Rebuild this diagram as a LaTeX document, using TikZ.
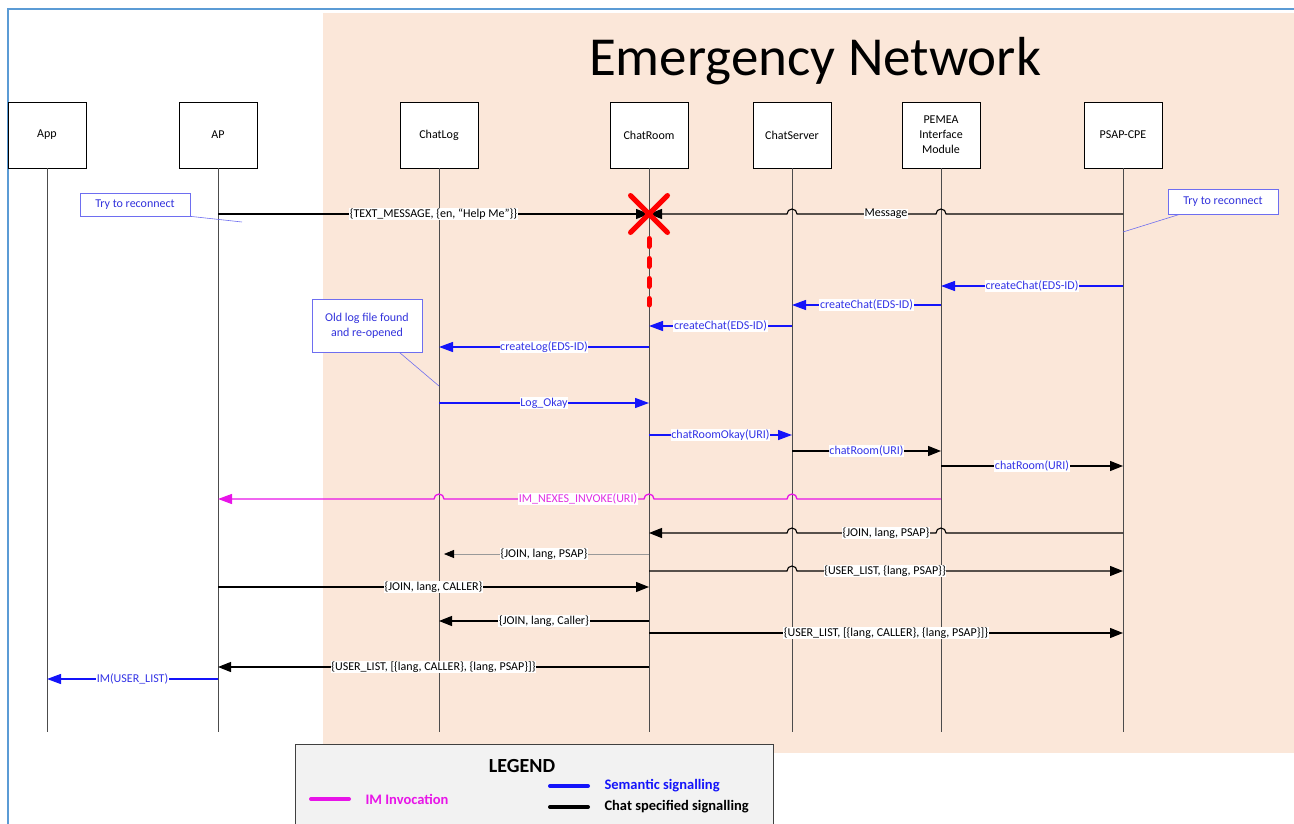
\documentclass[tikz,border=0pt]{standalone}
\usepackage{fontspec}
\setmainfont{Carlito}
\usetikzlibrary{arrows.meta,shapes.misc}
\definecolor{peach}{RGB}{251,231,217}
\definecolor{frameblue}{RGB}{91,155,213}
\definecolor{semblue}{RGB}{20,20,250}
\definecolor{semtext}{RGB}{51,51,230}
\definecolor{immag}{RGB}{232,20,232}
\definecolor{imtext}{RGB}{225,45,225}
\definecolor{noteblue}{RGB}{110,110,240}
\definecolor{notetext}{RGB}{50,50,220}
\begin{document}
\begin{tikzpicture}[x=1pt, y=-1pt,
    every node/.style={font=\fontsize{12}{15}\selectfont},
    actor/.style={draw, fill=white, line width=0.8pt, minimum width=78pt, minimum height=66pt, align=center, inner sep=1pt},
    life/.style={draw=black!70, line width=1pt},
    chat/.style={black, line width=1.1pt, -{Triangle[length=13pt,width=10pt]}},
    sem/.style={semblue, line width=1.3pt, -{Triangle[length=14pt,width=10pt]}},
    imcall/.style={immag, line width=1.3pt, -{Triangle[length=14pt,width=10pt]}},
    lbl/.style={fill=white, inner sep=0.6pt, text=black},
    semlbl/.style={lbl, text=semtext},
    note/.style={draw=noteblue, fill=white, line width=0.7pt, text=notetext, minimum width=110pt, align=center},
    noteline/.style={draw=noteblue, line width=0.6pt},
    legtext/.style={anchor=west, font=\bfseries\fontsize{14.5}{17}\selectfont}]

\useasboundingbox (0,0) rectangle (1294,824);
\fill[peach] (323,13) rectangle (1294,753);
\draw[frameblue, line width=2pt] (8,9) rectangle (1330,860);

\node[anchor=base, font=\fontsize{55}{60}\selectfont] (title) at (815,76) {Emergency Network};

\node[actor] (app) at (47,135) {App};
\node[actor] (ap) at (218,135) {AP};
\node[actor] (chatlog) at (439,135) {ChatLog};
\node[actor] (chatroom) at (649,135) {ChatRoom};
\node[actor] (chatsrv) at (792,135) {ChatServer};
\node[actor] (pemea) at (941,135) {PEMEA\\Interface\\Module};
\node[actor] (psap) at (1123,135) {PSAP-CPE};

\draw[life] (app.south) -- (app.south |- 0,732);
\draw[life] (ap.south) -- (ap.south |- 0,732);
\draw[life] (chatlog.south) -- (chatlog.south |- 0,732);
\draw[life] (chatroom.south) -- (chatroom.south |- 0,732);
\draw[life] (chatsrv.south) -- (chatsrv.south |- 0,732);
\draw[life] (pemea.south) -- (pemea.south |- 0,732);
\draw[life] (psap.south) -- (psap.south |- 0,732);

\draw[chat] (ap |- 0,214) -- node[lbl]{\{TEXT\_MESSAGE, \{en, “Help Me”\}\}} (chatroom |- 0,214);
\draw[chat] (psap |- 0,214) -- (946,214) arc[start angle=0, end angle=-180, radius=5]
    -- node[lbl, pos=.36]{Message} (797,214) arc[start angle=0, end angle=-180, radius=5]
    -- (chatroom |- 0,214);

\node[cross out, draw=red, line width=5pt, line cap=round, minimum size=32pt, inner sep=0pt] (fail) at (chatroom |- 0,214) {};
\draw[red, line width=5pt, line cap=round, dash pattern=on 8pt off 12pt] ([yshift=-6pt]fail.south) -- (chatroom |- 0,305);

\node[note, minimum height=23pt] (retryap) at (135,204.5) {Try to reconnect};
\coordinate (retryapend) at (242,222);
\draw[noteline] (retryap.south east) -- (retryapend);
\node[note, minimum height=25pt] (retrypsap) at (1223,201.5) {Try to reconnect};
\draw[noteline] ([xshift=12pt]retrypsap.south west) -- (psap |- 0,232);

\draw[sem] (psap |- 0,286) -- node[semlbl]{createChat(EDS-ID)} (pemea |- 0,286);
\draw[sem] (pemea |- 0,305) -- node[semlbl]{createChat(EDS-ID)} (chatsrv |- 0,305);
\draw[sem] (chatsrv |- 0,326) -- node[semlbl]{createChat(EDS-ID)} (chatroom |- 0,326);
\draw[sem] (chatroom |- 0,347) -- node[semlbl]{createLog(EDS-ID)} (chatlog |- 0,347);

\node[note, minimum height=53pt] (oldlog) at (367,325.5) {Old log file found\\and re-opened};
\draw[noteline] ([xshift=-23pt]oldlog.south east) -- (chatlog |- 0,386);

\draw[sem] (chatlog |- 0,403) -- node[semlbl]{Log\_Okay} (chatroom |- 0,403);
\draw[sem] (chatroom |- 0,435) -- node[semlbl]{chatRoomOkay(URI)} (chatsrv |- 0,435);
\draw[chat] (chatsrv |- 0,451) -- node[semlbl]{chatRoom(URI)} (pemea |- 0,451);
\draw[chat] (pemea |- 0,466) -- node[semlbl]{chatRoom(URI)} (psap |- 0,466);

\draw[imcall] (pemea |- 0,499) -- (797,499) arc[start angle=0, end angle=-180, radius=5]
    -- (654,499) arc[start angle=0, end angle=-180, radius=5]
    -- node[lbl, text=imtext, pos=.33]{IM\_NEXES\_INVOKE(URI)} (444,499) arc[start angle=0, end angle=-180, radius=5]
    -- (ap |- 0,499);

\draw[chat] (psap |- 0,533) -- (946,533) arc[start angle=0, end angle=-180, radius=5]
    -- node[lbl, pos=.36]{\{JOIN, lang, PSAP\}} (797,533) arc[start angle=0, end angle=-180, radius=5]
    -- (chatroom |- 0,533);
\draw[black!40, line width=0.8pt, -{Triangle[length=10pt,width=8pt,color=black]}, shorten >=5pt]
    (chatroom |- 0,554) -- node[lbl]{\{JOIN, lang, PSAP\}} (chatlog |- 0,554);
\draw[chat] (chatroom |- 0,571) -- (787,571) arc[start angle=180, end angle=360, radius=5]
    -- node[lbl, pos=.27]{\{USER\_LIST, \{lang, PSAP\}\}} (psap |- 0,571);
\draw[chat] (ap |- 0,587) -- node[lbl]{\{JOIN, lang, CALLER\}} (chatroom |- 0,587);
\draw[chat] (chatroom |- 0,621) -- node[lbl]{\{JOIN, lang, Caller\}} (chatlog |- 0,621);
\draw[chat] (chatroom |- 0,633) -- node[lbl]{\{USER\_LIST, [\{lang, CALLER\}, \{lang, PSAP\}]\}} (psap |- 0,633);
\draw[chat] (chatroom |- 0,667) -- node[lbl]{\{USER\_LIST, [\{lang, CALLER\}, \{lang, PSAP\}]\}} (ap |- 0,667);
\draw[sem] (ap |- 0,679) -- node[semlbl]{IM(USER\_LIST)} (app |- 0,679);

\node[draw=black!75, fill=black!5, line width=1pt, minimum width=478pt, minimum height=100pt, anchor=north west] (legend) at (295,744) {};
\node[font=\bfseries\fontsize{20}{24}\selectfont] (legendtitle) at (522,766) {LEGEND};
\node[legtext, text=immag] (legim) at (362,799) {IM Invocation};
\node[legtext, text=semblue] (legsem) at (601,786) {Semantic signalling};
\node[legtext] (legchat) at (601,807) {Chat specified signalling};
\draw[immag, line width=4pt, line cap=round] ([xshift=-13pt]legim.west) -- ++(-38,0);
\draw[semblue, line width=4pt, line cap=round] ([xshift=-13pt]legsem.west) -- ++(-38,0);
\draw[black, line width=4pt, line cap=round] ([xshift=-13pt]legchat.west) -- ++(-38,0);
\end{tikzpicture}
\end{document}
